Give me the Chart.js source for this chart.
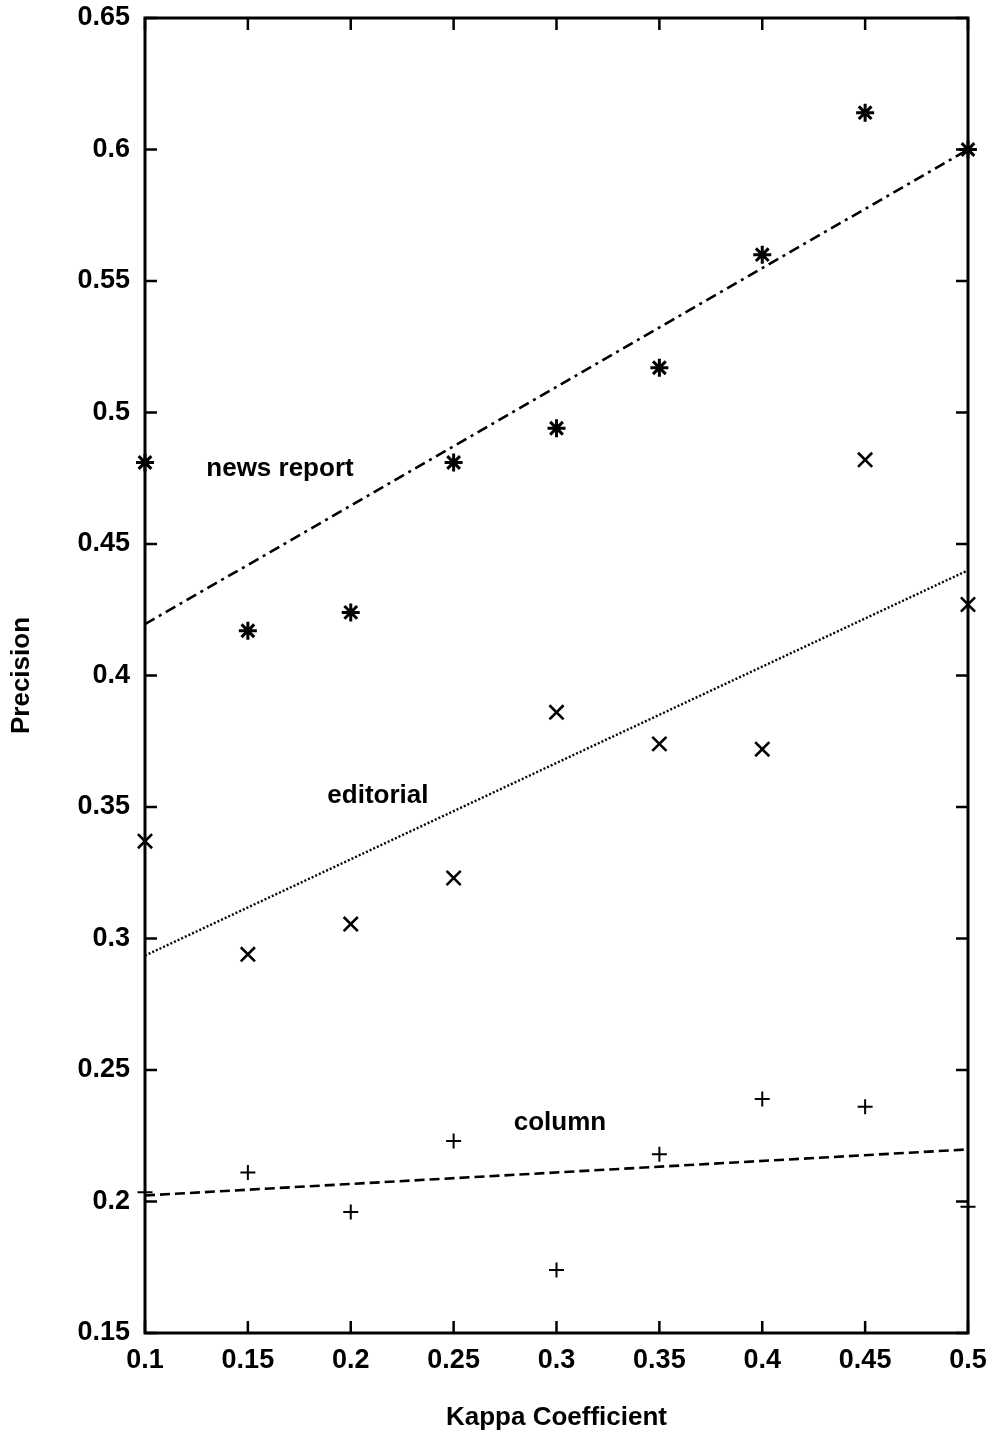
<!DOCTYPE html>
<html>
<head>
<meta charset="utf-8">
<script src="https://cdn.jsdelivr.net/npm/chart.js@4.4.1/dist/chart.umd.min.js"></script>
<style>
html, body { margin: 0; padding: 0; background: #fff; }
#wrap { width: 994px; height: 1436px; }
</style>
</head>
<body>
<div id="wrap"><canvas id="kappaChart"></canvas></div>
<script>
// values
var kappa = [0.1, 0.15, 0.2, 0.25, 0.3, 0.35, 0.4, 0.45, 0.5];
var newsReport = [0.481, 0.417, 0.424, 0.481, 0.494, 0.517, 0.560, 0.614, 0.600];
var editorial = [0.337, 0.294, 0.3055, 0.323, 0.386, 0.374, 0.372, 0.482, 0.427];
var column = [0.2035, 0.211, 0.196, 0.223, 0.174, 0.218, 0.239, 0.236, 0.198];

// fitted lines (end points)
var fitX = [0.1, 0.5];
var newsFit = [0.4195, 0.600];
var editorialFit = [0.2935, 0.440];
var columnFit = [0.2023, 0.2198];

var xTicks = [0.1, 0.15, 0.2, 0.25, 0.3, 0.35, 0.4, 0.45, 0.5];
var yTicks = [0.15, 0.2, 0.25, 0.3, 0.35, 0.4, 0.45, 0.5, 0.55, 0.6, 0.65];

var labelNames = ['news report', 'editorial', 'column'];
var labelX = [0.1656, 0.2132, 0.3017];
var labelY = [0.4785, 0.3542, 0.2299];

var FONT = '"Liberation Sans", Arial, sans-serif';

function pts(xs, ys) {
    return xs.map(function (x, i) { return {x: x, y: ys[i]}; });
}

var frameTicks = {
    id: 'frameTicks',
    afterDraw: function (chart) {
        var ctx = chart.ctx;
        var a = chart.chartArea;
        var xs = chart.scales.x, ys = chart.scales.y;
        var tl = 12;
        ctx.save();
        ctx.strokeStyle = '#000';
        ctx.lineWidth = 2.5;
        ctx.beginPath();
        xTicks.forEach(function (v) {
            var px = xs.getPixelForValue(v);
            ctx.moveTo(px, a.bottom); ctx.lineTo(px, a.bottom - tl);
            ctx.moveTo(px, a.top); ctx.lineTo(px, a.top + tl);
        });
        yTicks.forEach(function (v) {
            var py = ys.getPixelForValue(v);
            ctx.moveTo(a.left, py); ctx.lineTo(a.left + tl, py);
            ctx.moveTo(a.right, py); ctx.lineTo(a.right - tl, py);
        });
        ctx.stroke();
        ctx.lineWidth = 3;
        ctx.strokeRect(a.left, a.top, a.right - a.left, a.bottom - a.top);

        ctx.fillStyle = '#000';
        ctx.font = 'bold 26px ' + FONT;
        ctx.textAlign = 'center';
        ctx.textBaseline = 'middle';
        labelNames.forEach(function (t, i) {
            ctx.fillText(t, xs.getPixelForValue(labelX[i]), ys.getPixelForValue(labelY[i]));
        });
        ctx.restore();
    }
};

function markers(label, ys, style, r, bw) {
    return {
        label: label,
        data: pts(kappa, ys),
        showLine: false,
        pointStyle: style,
        pointRadius: r,
        pointHoverRadius: r,
        borderColor: '#000',
        backgroundColor: '#000',
        pointBorderWidth: bw,
        clip: false
    };
}

function fitLine(label, ys, dash, bw) {
    return {
        label: label,
        data: pts(fitX, ys),
        showLine: true,
        pointRadius: 0,
        borderColor: '#000',
        borderWidth: bw,
        borderDash: dash,
        fill: false
    };
}

var ctx = document.getElementById('kappaChart').getContext('2d');
new Chart(ctx, {
    type: 'scatter',
    data: {
        datasets: [
            fitLine('news report fit', newsFit, [11, 5, 3, 5], 2.6),
            fitLine('editorial fit', editorialFit, [2, 2], 2.4),
            fitLine('column fit', columnFit, [10, 5], 2.6),
            markers('news report', newsReport, 'star', 9, 3),
            markers('editorial', editorial, 'crossRot', 10, 2.6),
            markers('column', column, 'cross', 7.5, 2)
        ]
    },
    options: {
        responsive: true,
        maintainAspectRatio: false,
        animation: false,
        layout: {padding: {left: 0, right: 26, top: 18, bottom: 0}},
        plugins: {legend: {display: false}, tooltip: {enabled: false}},
        scales: {
            x: {
                type: 'linear',
                min: 0.1,
                max: 0.5,
                grid: {display: false, drawTicks: false},
                border: {display: false},
                afterBuildTicks: function (s) { s.ticks = xTicks.map(function (v) { return {value: v}; }); },
                afterFit: function (s) { s.height = 103; s.paddingLeft = 0; s.paddingRight = 0; },
                ticks: {
                    color: '#000',
                    padding: 11,
                    maxRotation: 0,
                    autoSkip: false,
                    font: {family: FONT, size: 27, weight: 'bold'},
                    callback: function (v) { return String(v); }
                },
                title: {
                    display: true,
                    text: 'Kappa Coefficient',
                    color: '#000',
                    padding: {top: 0, bottom: 3},
                    font: {family: FONT, size: 26, weight: 'bold'}
                }
            },
            y: {
                type: 'linear',
                min: 0.15,
                max: 0.65,
                grid: {display: false, drawTicks: false},
                border: {display: false},
                afterBuildTicks: function (s) { s.ticks = yTicks.map(function (v) { return {value: v}; }); },
                afterFit: function (s) { s.width = 145; s.paddingTop = 0; s.paddingBottom = 0; },
                ticks: {
                    color: '#000',
                    padding: 15,
                    autoSkip: false,
                    font: {family: FONT, size: 27, weight: 'bold'},
                    callback: function (v) { return String(v); }
                },
                title: {
                    display: true,
                    text: 'Precision',
                    color: '#000',
                    padding: {top: 6, bottom: 0},
                    font: {family: FONT, size: 26, weight: 'bold'}
                }
            }
        }
    },
    plugins: [frameTicks]
});
</script>
</body>
</html>
